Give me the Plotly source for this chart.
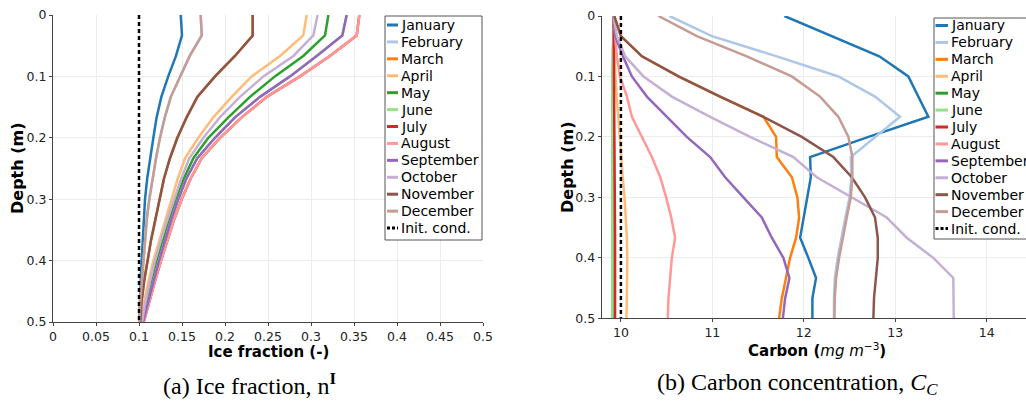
import plotly.graph_objects as go

# ---------------- data ----------------
depth = [0, 0.0333, 0.0667, 0.1, 0.1333, 0.1667, 0.2, 0.2333, 0.2667, 0.3,
         0.3333, 0.3667, 0.4, 0.4333, 0.4667, 0.5]

months = ["January", "February", "March", "April", "May", "June", "July",
          "August", "September", "October", "November", "December"]
colors = ["#1f77b4", "#aec7e8", "#ff7f0e", "#ffbb78", "#2ca02c", "#98df8a",
          "#d62728", "#ff9896", "#9467bd", "#c5b0d5", "#8c564b", "#c49c94"]

# (a) ice fraction
ice_jan = [0.1485, 0.150, 0.143, 0.134, 0.126, 0.1205, 0.1167, 0.1128, 0.1095, 0.107, 0.1055, 0.1042, 0.1031, 0.102, 0.101, 0.1003]
ice_dec = [0.1717, 0.173, 0.159, 0.1477, 0.137, 0.130, 0.1244, 0.1198, 0.1155, 0.112, 0.109, 0.107, 0.105, 0.103, 0.1015, 0.1005]
ice_feb = [0.1717, 0.173, 0.159, 0.1477, 0.137, 0.130, 0.1244, 0.1198, 0.1155, 0.112, 0.109, 0.107, 0.105, 0.103, 0.1015, 0.1005]
ice_nov = [0.2322, 0.2322, 0.2116, 0.1884, 0.1678, 0.1554, 0.1446, 0.136, 0.129, 0.1244, 0.119, 0.114, 0.1097, 0.106, 0.103, 0.1015]
ice_mar = [0.2322, 0.2322, 0.2116, 0.1884, 0.1678, 0.1554, 0.1446, 0.136, 0.129, 0.1244, 0.119, 0.114, 0.1097, 0.106, 0.103, 0.1015]
ice_apr = [0.295, 0.291, 0.264, 0.231, 0.2078, 0.1864, 0.169, 0.1535, 0.145, 0.138, 0.1305, 0.1235, 0.1167, 0.111, 0.106, 0.103]
ice_oct = [0.3077, 0.3027, 0.2795, 0.2446, 0.2174, 0.194, 0.1748, 0.1585, 0.149, 0.1407, 0.133, 0.1255, 0.1186, 0.113, 0.1075, 0.1035]
ice_may = [0.3202, 0.3163, 0.291, 0.258, 0.229, 0.2039, 0.1806, 0.1632, 0.152, 0.143, 0.135, 0.1275, 0.1205, 0.1145, 0.109, 0.104]
ice_sep = [0.3415, 0.3364, 0.3066, 0.2756, 0.2407, 0.2116, 0.1884, 0.1678, 0.155, 0.1457, 0.1375, 0.130, 0.1233, 0.117, 0.111, 0.1045]
ice_jun = [0.3415, 0.3364, 0.3066, 0.2756, 0.2407, 0.2116, 0.1884, 0.1678, 0.155, 0.1457, 0.1375, 0.130, 0.1233, 0.117, 0.111, 0.1045]
ice_aug = [0.3562, 0.3531, 0.322, 0.2872, 0.2485, 0.2194, 0.1942, 0.1729, 0.160, 0.1496, 0.1408, 0.1328, 0.1256, 0.1186, 0.112, 0.1055]
ice_jul = [0.3562, 0.3531, 0.322, 0.2872, 0.2485, 0.2194, 0.1942, 0.1729, 0.160, 0.1496, 0.1408, 0.1328, 0.1256, 0.1186, 0.112, 0.1055]
ice_init = [0.1] * len(depth)

# (b) carbon concentration
c_jan = [11.788, 12.307, 12.826, 13.143, 13.253, 13.362, 12.708, 12.069, 12.077, 12.04, 12.003, 11.96, 12.05, 12.134, 12.094, 12.094]
c_feb = [10.531, 10.995, 11.705, 12.378, 12.779, 13.053, 12.78, 12.514, 12.52, 12.50, 12.455, 12.41, 12.37, 12.34, 12.33, 12.33]
c_mar = [9.927, 10.0, 10.23, 10.63, 11.085, 11.559, 11.697, 11.705, 11.87, 11.93, 11.949, 11.916, 11.85, 11.803, 11.76, 11.73]
c_apr = [9.92, 9.925, 9.93, 9.94, 9.955, 9.97, 9.985, 10.0, 10.02, 10.04, 10.055, 10.065, 10.07, 10.07, 10.065, 10.06]
c_may = [9.92, 9.915, 9.912, 9.91, 9.91, 9.91, 9.91, 9.91, 9.91, 9.91, 9.91, 9.91, 9.91, 9.91, 9.91, 9.91]
c_jun = [9.92, 9.914, 9.91, 9.908, 9.908, 9.908, 9.908, 9.908, 9.908, 9.908, 9.908, 9.908, 9.908, 9.908, 9.908, 9.908]
c_jul = [9.92, 9.922, 9.925, 9.928, 9.93, 9.932, 9.933, 9.934, 9.935, 9.935, 9.936, 9.936, 9.936, 9.936, 9.936, 9.936]
c_aug = [9.92, 9.935, 9.956, 9.99, 10.066, 10.12, 10.23, 10.339, 10.43, 10.495, 10.55, 10.593, 10.557, 10.539, 10.52, 10.513]
c_sep = [9.919, 9.938, 10.022, 10.12, 10.284, 10.503, 10.721, 10.976, 11.14, 11.34, 11.541, 11.65, 11.777, 11.843, 11.796, 11.771]
c_oct = [9.92, 9.956, 10.047, 10.247, 10.557, 10.976, 11.413, 11.886, 12.142, 12.525, 12.907, 13.126, 13.416, 13.635, 13.635, 13.64]
c_nov = [9.927, 10.0, 10.23, 10.63, 11.085, 11.559, 11.978, 12.323, 12.525, 12.67, 12.779, 12.809, 12.809, 12.79, 12.768, 12.761]
c_dec = [10.411, 10.83, 11.377, 11.869, 12.178, 12.378, 12.488, 12.531, 12.531, 12.514, 12.47, 12.426, 12.386, 12.353, 12.339, 12.335]
c_init = [10.0] * len(depth)

ice_series = [ice_jan, ice_feb, ice_mar, ice_apr, ice_may, ice_jun, ice_jul,
              ice_aug, ice_sep, ice_oct, ice_nov, ice_dec]
c_series = [c_jan, c_feb, c_mar, c_apr, c_may, c_jun, c_jul,
            c_aug, c_sep, c_oct, c_nov, c_dec]

ice_ticks = [0, 0.05, 0.1, 0.15, 0.2, 0.25, 0.3, 0.35, 0.4, 0.45, 0.5]
ice_ticklabels = ["0", "0.05", "0.1", "0.15", "0.2", "0.25", "0.3", "0.35", "0.4", "0.45", "0.5"]
c_ticks = [10, 11, 12, 13, 14]
depth_ticks = [0, 0.1, 0.2, 0.3, 0.4, 0.5]
depth_ticklabels = ["0", "0.1", "0.2", "0.3", "0.4", "0.5"]
legend_names = months + ["Init. cond."]

# ---------------- figure ----------------
W, H = 1026, 403


def px(x):
    return x / W


def py(y):
    return 1 - y / H


fig = go.Figure()
for name, col, vals in zip(months, colors, ice_series):
    fig.add_trace(go.Scatter(x=vals, y=depth, mode="lines", name=name,
                             line=dict(color=col, width=2.5),
                             xaxis="x", yaxis="y", showlegend=False))
fig.add_trace(go.Scatter(x=ice_init, y=depth, mode="lines", name="Init. cond.",
                         line=dict(color="black", width=2.5, dash="4px,3px"),
                         xaxis="x", yaxis="y", showlegend=False))
for name, col, vals in zip(months, colors, c_series):
    fig.add_trace(go.Scatter(x=vals, y=depth, mode="lines", name=name,
                             line=dict(color=col, width=2.5),
                             xaxis="x2", yaxis="y2", showlegend=False))
fig.add_trace(go.Scatter(x=c_init, y=depth, mode="lines", name="Init. cond.",
                         line=dict(color="black", width=2.5, dash="4px,3px"),
                         xaxis="x2", yaxis="y2", showlegend=False))

tickfont = dict(family="DejaVu Sans", size=12.5, color="#222")
axis_common = dict(showgrid=True, gridcolor="#ececec", gridwidth=1,
                   zeroline=False, showline=True, linecolor="#444", linewidth=1,
                   ticks="outside", ticklen=3, tickcolor="#444", tickfont=tickfont,
                   automargin=False)

fig.update_layout(
    width=W, height=H,
    margin=dict(l=0, r=0, t=0, b=0, pad=0, autoexpand=False),
    paper_bgcolor="white", plot_bgcolor="white",
    showlegend=False,
    xaxis=dict(domain=[px(53), px(483)], range=[0, 0.5], tickvals=ice_ticks,
               ticktext=ice_ticklabels, anchor="y", **axis_common),
    yaxis=dict(domain=[py(322), py(15)], range=[0.5, 0], tickvals=depth_ticks,
               ticktext=depth_ticklabels, anchor="x", **axis_common),
    xaxis2=dict(domain=[px(601.7), 1.0], range=[9.79, 14.43], tickvals=c_ticks,
                anchor="y2", **axis_common),
    yaxis2=dict(domain=[py(318.3), py(16)], range=[0.5, 0], tickvals=depth_ticks,
                ticktext=depth_ticklabels, anchor="x2", **axis_common),
)

annotations = []
shapes = []

# axis titles
title_font = dict(family="DejaVu Sans", size=15, color="black")
annotations.append(dict(x=px(268), y=py(352), xref="paper", yref="paper",
                        text="<b>Ice fraction (-)</b>", showarrow=False,
                        font=title_font, xanchor="center", yanchor="middle"))
annotations.append(dict(x=px(18), y=py(168), xref="paper", yref="paper",
                        text="<b>Depth (m)</b>", showarrow=False, textangle=-90,
                        font=dict(family="DejaVu Sans", size=16, color="black"),
                        xanchor="center", yanchor="middle"))
annotations.append(dict(x=px(817), y=py(350), xref="paper", yref="paper",
                        text="<b>Carbon (</b><i>mg m</i><sup>−3</sup><b>)</b>",
                        showarrow=False, font=title_font,
                        xanchor="center", yanchor="middle"))
annotations.append(dict(x=px(567), y=py(167), xref="paper", yref="paper",
                        text="<b>Depth (m)</b>", showarrow=False, textangle=-90,
                        font=dict(family="DejaVu Sans", size=16, color="black"),
                        xanchor="center", yanchor="middle"))

# captions
cap_font = dict(family="Liberation Serif", size=24, color="black")
annotations.append(dict(x=px(249), y=py(384), xref="paper", yref="paper",
                        text="(a) Ice fraction, n<sup><b>I</b></sup>",
                        showarrow=False, font=cap_font,
                        xanchor="center", yanchor="middle"))
annotations.append(dict(x=px(797), y=py(384), xref="paper", yref="paper",
                        text="(b) Carbon concentration, <i>C</i><sub><i>C</i></sub>",
                        showarrow=False, font=cap_font,
                        xanchor="center", yanchor="middle"))

# custom legends (drawn from names/colours)
leg_colors = colors + ["black"]


def add_legend(box, line_x, text_x, y0, step):
    shapes.append(dict(type="rect", xref="paper", yref="paper",
                       x0=px(box[0]), x1=px(box[1]), y0=py(box[2]), y1=py(box[3]),
                       line=dict(color="#555", width=1), fillcolor="white",
                       layer="above"))
    for i, (nm, col) in enumerate(zip(legend_names, leg_colors)):
        yy = y0 + step * i
        dash = "3px,2px" if nm == "Init. cond." else "solid"
        shapes.append(dict(type="line", xref="paper", yref="paper",
                           x0=px(line_x[0]), x1=px(line_x[1]), y0=py(yy), y1=py(yy),
                           line=dict(color=col, width=3, dash=dash), layer="above"))
        annotations.append(dict(x=px(text_x), y=py(yy), xref="paper", yref="paper",
                                text=nm, showarrow=False, xanchor="left",
                                yanchor="middle",
                                font=dict(family="DejaVu Sans", size=14, color="black")))


add_legend((385, 482, 16, 240), (387, 398), 399, 25, 16.92)
add_legend((934, 1060, 18, 239), (935.5, 948), 949, 25.5, 16.92)

fig.update_layout(annotations=annotations, shapes=shapes)

fig.write_html("out.html")
